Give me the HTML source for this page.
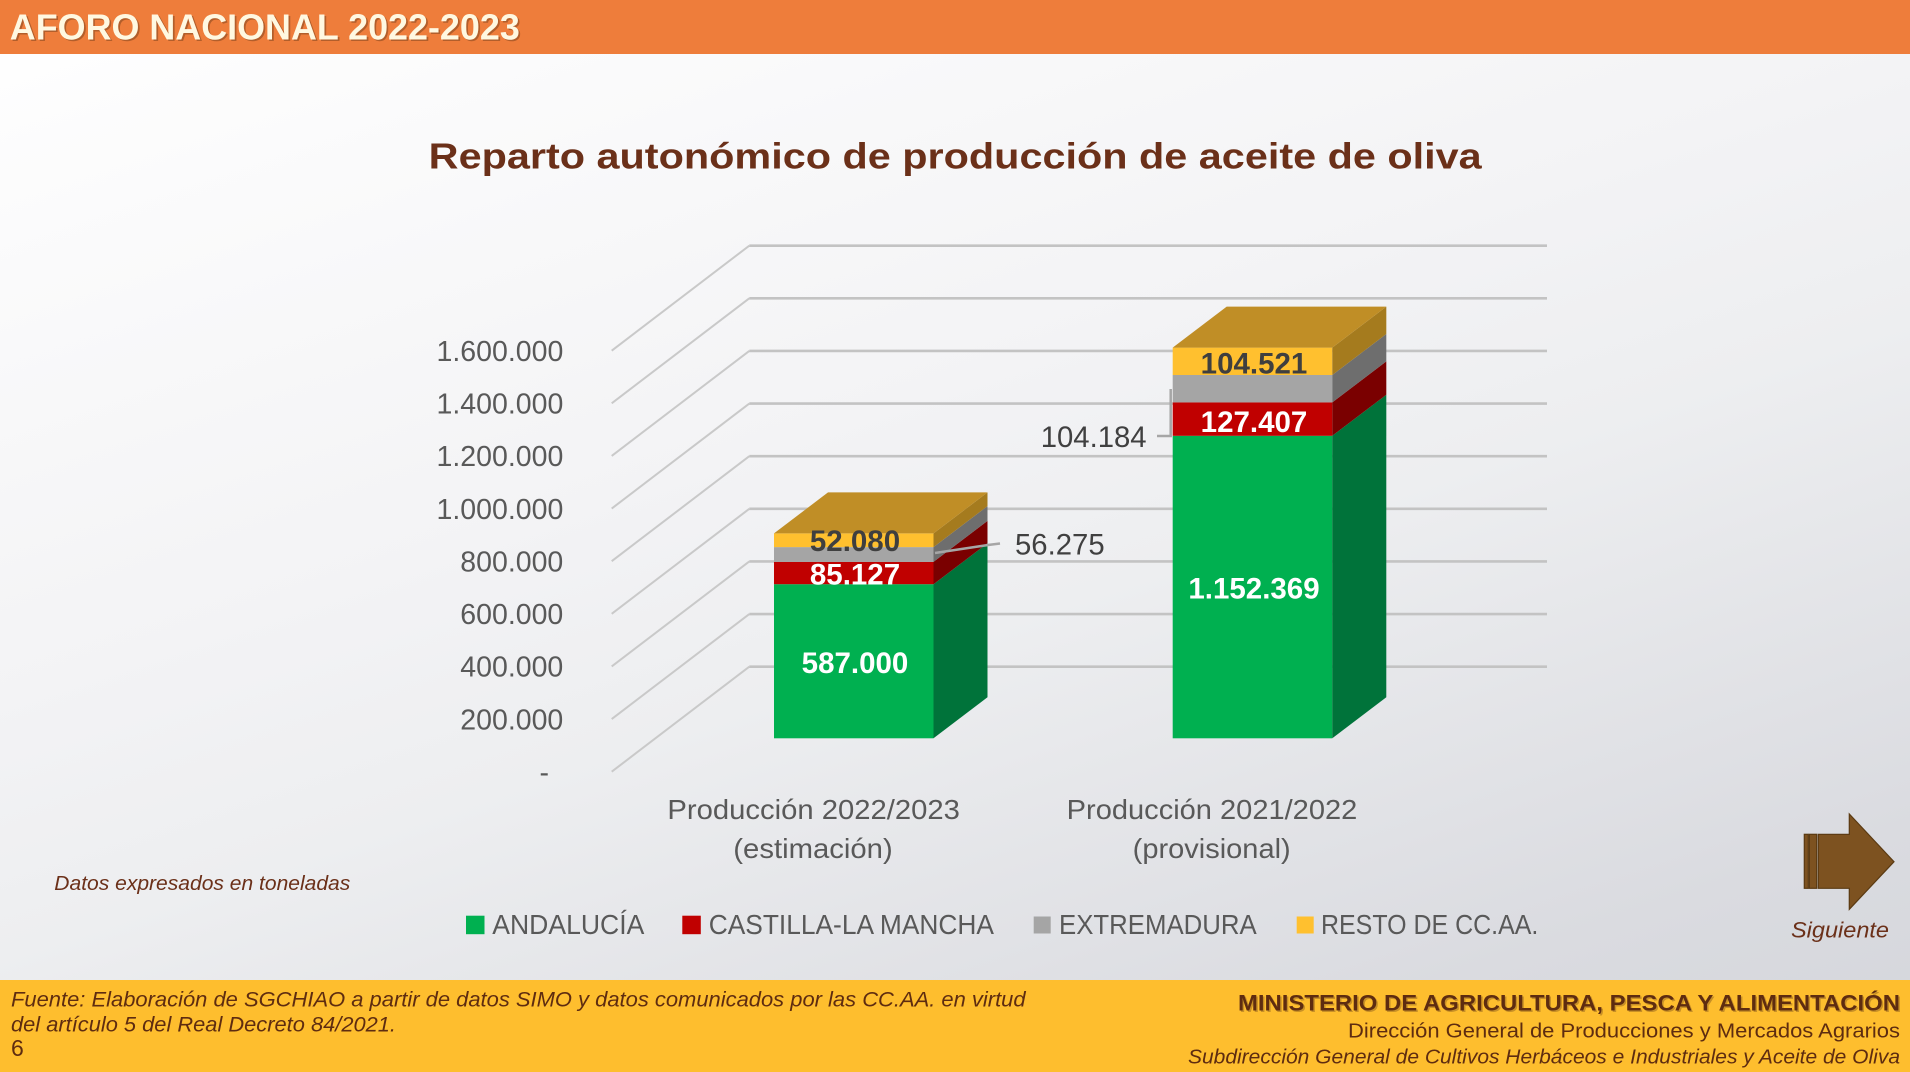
<!DOCTYPE html>
<html><head><meta charset="utf-8"><style>
html,body{margin:0;padding:0;width:1910px;height:1072px;overflow:hidden;background:#fff}
svg{display:block}
text{font-family:"Liberation Sans",Arial,sans-serif}
</style></head><body>
<svg width="1910" height="1072" viewBox="0 0 1910 1072" xmlns="http://www.w3.org/2000/svg">
<defs>
<linearGradient id="bg" gradientUnits="userSpaceOnUse" x1="0" y1="0" x2="512.6" y2="1537.8">
<stop offset="0" stop-color="#FFFFFF"/>
<stop offset="0.41" stop-color="#F3F3F5"/>
<stop offset="0.56" stop-color="#EDEEF0"/>
<stop offset="0.855" stop-color="#DADBE0"/>
<stop offset="1" stop-color="#D4D6DB"/>
</linearGradient>
</defs>
<rect x="0" y="0" width="1910" height="1072" fill="url(#bg)"/>

<!-- header -->
<rect x="0" y="0" width="1910" height="54" fill="#EE7D3B"/>
<text x="11.5" y="41" font-size="36" font-weight="bold" fill="#8A4A22" fill-opacity="0.6" textLength="510" lengthAdjust="spacingAndGlyphs">AFORO NACIONAL 2022-2023</text>
<text x="9.8" y="39.3" font-size="36" font-weight="bold" fill="#FFF8E1" textLength="510" lengthAdjust="spacingAndGlyphs">AFORO NACIONAL 2022-2023</text>

<!-- title -->
<text x="428.7" y="168.3" font-size="36" font-weight="bold" fill="#6B3019" textLength="1053" lengthAdjust="spacingAndGlyphs">Reparto autonómico de producción de aceite de oliva</text>

<!-- gridlines -->
<g stroke="#C9C9C9" stroke-width="2" fill="none">
<line x1="611.7" y1="771.7" x2="749.3" y2="666.7"/>
<line x1="611.7" y1="719.07" x2="749.3" y2="614.07"/>
<line x1="611.7" y1="666.44" x2="749.3" y2="561.44"/>
<line x1="611.7" y1="613.81" x2="749.3" y2="508.81"/>
<line x1="611.7" y1="561.18" x2="749.3" y2="456.18"/>
<line x1="611.7" y1="508.55" x2="749.3" y2="403.55"/>
<line x1="611.7" y1="455.92" x2="749.3" y2="350.92"/>
<line x1="611.7" y1="403.29" x2="749.3" y2="298.29"/>
<line x1="611.7" y1="350.66" x2="749.3" y2="245.66"/>
</g>
<g stroke="#C3C3C3" stroke-width="2.6" fill="none">
<line x1="749.3" y1="666.7" x2="1547" y2="666.7"/>
<line x1="749.3" y1="614.07" x2="1547" y2="614.07"/>
<line x1="749.3" y1="561.44" x2="1547" y2="561.44"/>
<line x1="749.3" y1="508.81" x2="1547" y2="508.81"/>
<line x1="749.3" y1="456.18" x2="1547" y2="456.18"/>
<line x1="749.3" y1="403.55" x2="1547" y2="403.55"/>
<line x1="749.3" y1="350.92" x2="1547" y2="350.92"/>
<line x1="749.3" y1="298.29" x2="1547" y2="298.29"/>
<line x1="749.3" y1="245.66" x2="1547" y2="245.66"/>
</g>

<!-- y axis labels -->
<g font-size="28.5" fill="#595959" text-anchor="end">
<text x="563.3" y="360.9">1.600.000</text>
<text x="563.3" y="413.5">1.400.000</text>
<text x="563.3" y="466.1">1.200.000</text>
<text x="563.3" y="518.8">1.000.000</text>
<text x="563.3" y="571.4">800.000</text>
<text x="563.3" y="624.0">600.000</text>
<text x="563.3" y="676.6">400.000</text>
<text x="563.3" y="729.3">200.000</text>
<text x="549" y="781.9">-</text>
</g>

<!-- bar 1 -->
<rect x="774" y="584.2" width="159.5" height="154.1" fill="#00B050"/>
<polygon points="933.5,738.3 987.5,697.3 987.5,543.2 933.5,584.2" fill="#00733A"/>
<rect x="774" y="561.9" width="159.5" height="22.3" fill="#C00000"/>
<polygon points="933.5,584.2 987.5,543.2 987.5,520.9 933.5,561.9" fill="#7A0000"/>
<rect x="774" y="547.1" width="159.5" height="14.8" fill="#A5A5A5"/>
<polygon points="933.5,561.9 987.5,520.9 987.5,506.1 933.5,547.1" fill="#6E6E6E"/>
<rect x="774" y="533.4" width="159.5" height="13.7" fill="#FFC02F"/>
<polygon points="933.5,547.1 987.5,506.1 987.5,492.4 933.5,533.4" fill="#A57B1E"/>
<polygon points="774,533.4 828,492.4 987.5,492.4 933.5,533.4" fill="#C08E26"/>

<!-- bar 2 -->
<rect x="1172.7" y="435.8" width="159.6" height="302.5" fill="#00B050"/>
<polygon points="1332.3,738.3 1386.3,697.3 1386.3,394.8 1332.3,435.8" fill="#00733A"/>
<rect x="1172.7" y="402.4" width="159.6" height="33.4" fill="#C00000"/>
<polygon points="1332.3,435.8 1386.3,394.8 1386.3,361.4 1332.3,402.4" fill="#7A0000"/>
<rect x="1172.7" y="375" width="159.6" height="27.4" fill="#A5A5A5"/>
<polygon points="1332.3,402.4 1386.3,361.4 1386.3,334 1332.3,375" fill="#6E6E6E"/>
<rect x="1172.7" y="347.6" width="159.6" height="27.4" fill="#FFC02F"/>
<polygon points="1332.3,375 1386.3,334 1386.3,306.6 1332.3,347.6" fill="#A57B1E"/>
<polygon points="1172.7,347.6 1226.7,306.6 1386.3,306.6 1332.3,347.6" fill="#C08E26"/>

<!-- leader lines -->
<polyline points="935,553 988,545 1000,543.5" fill="none" stroke="#A6A6A6" stroke-width="2.5"/>
<polyline points="1157,436 1170.7,436 1170.7,389" fill="none" stroke="#A6A6A6" stroke-width="2.5"/>

<!-- data labels -->
<g font-size="29.5" font-weight="bold" text-anchor="middle">
<text x="855" y="673" fill="#FFFFFF">587.000</text>
<text x="855" y="584.4" fill="#FFFFFF">85.127</text>
<text x="855" y="551" fill="#3F3F3F">52.080</text>
<text x="1254" y="598.7" fill="#FFFFFF">1.152.369</text>
<text x="1254" y="432" fill="#FFFFFF">127.407</text>
<text x="1254" y="373.7" fill="#3F3F3F">104.521</text>
</g>
<text x="1040.7" y="447" font-size="29.3" fill="#404040">104.184</text>
<text x="1015" y="554.7" font-size="29.3" fill="#404040">56.275</text>

<!-- category labels -->
<g font-size="27.5" fill="#595959" text-anchor="middle">
<text x="813.7" y="819" textLength="292.5" lengthAdjust="spacingAndGlyphs">Producción 2022/2023</text>
<text x="813" y="858" textLength="159.4" lengthAdjust="spacingAndGlyphs">(estimación)</text>
<text x="1212" y="819" textLength="290.6" lengthAdjust="spacingAndGlyphs">Producción 2021/2022</text>
<text x="1211.7" y="858" textLength="158" lengthAdjust="spacingAndGlyphs">(provisional)</text>
</g>

<!-- legend -->
<rect x="466" y="915.7" width="18.5" height="18.5" fill="#00B050"/>
<rect x="682.3" y="915.7" width="18.5" height="18.5" fill="#C00000"/>
<rect x="1033.7" y="916.5" width="17" height="17" fill="#A5A5A5"/>
<rect x="1296.7" y="916.5" width="17" height="17" fill="#FFC02F"/>
<g font-size="27.5" fill="#595959">
<text x="492.3" y="934" textLength="152" lengthAdjust="spacingAndGlyphs">ANDALUCÍA</text>
<text x="708.7" y="934" textLength="285.3" lengthAdjust="spacingAndGlyphs">CASTILLA-LA MANCHA</text>
<text x="1059" y="934" textLength="197.7" lengthAdjust="spacingAndGlyphs">EXTREMADURA</text>
<text x="1321" y="934" textLength="217.3" lengthAdjust="spacingAndGlyphs">RESTO DE CC.AA.</text>
</g>

<!-- note -->
<text x="54.3" y="890" font-size="20.5" font-style="italic" fill="#6B3019" textLength="296" lengthAdjust="spacingAndGlyphs">Datos expresados en toneladas</text>

<!-- arrow -->
<g fill="#7D5220" stroke="#5A3A12" stroke-width="1.2">
<rect x="1804.3" y="834.3" width="4" height="54"/>
<rect x="1809.3" y="834.3" width="7.4" height="54"/>
<polygon points="1818.3,834.3 1849.3,834.3 1849.3,814 1894,861.7 1849.3,909.3 1849.3,888.3 1818.3,888.3"/>
</g>
<text x="1791" y="937.7" font-size="22" font-style="italic" fill="#6B3019" textLength="98" lengthAdjust="spacingAndGlyphs">Siguiente</text>

<!-- footer -->
<rect x="0" y="980" width="1910" height="92" fill="#FEBE2E"/>
<g fill="#5E2C10">
<text x="11" y="1006.7" font-size="21" font-style="italic" textLength="1014.6" lengthAdjust="spacingAndGlyphs">Fuente: Elaboración de SGCHIAO a partir de datos SIMO y datos comunicados por las CC.AA. en virtud</text>
<text x="11" y="1031.7" font-size="21" font-style="italic" textLength="385" lengthAdjust="spacingAndGlyphs">del artículo 5 del Real Decreto 84/2021.</text>
<text x="11" y="1056" font-size="23">6</text>
</g>
<text x="1901.5" y="1012" font-size="22.5" font-weight="bold" fill="#9A6A20" fill-opacity="0.55" text-anchor="end" textLength="662" lengthAdjust="spacingAndGlyphs">MINISTERIO DE AGRICULTURA, PESCA Y ALIMENTACIÓN</text>
<text x="1900" y="1010.7" font-size="22.5" font-weight="bold" fill="#5E2C10" text-anchor="end" textLength="662" lengthAdjust="spacingAndGlyphs">MINISTERIO DE AGRICULTURA, PESCA Y ALIMENTACIÓN</text>
<text x="1900" y="1037.3" font-size="20.5" fill="#5E2C10" text-anchor="end" textLength="552" lengthAdjust="spacingAndGlyphs">Dirección General de Producciones y Mercados Agrarios</text>
<text x="1900" y="1063.3" font-size="20.5" font-style="italic" fill="#5E2C10" text-anchor="end" textLength="712" lengthAdjust="spacingAndGlyphs">Subdirección General de Cultivos Herbáceos e Industriales y Aceite de Oliva</text>
</svg>
</body></html>
